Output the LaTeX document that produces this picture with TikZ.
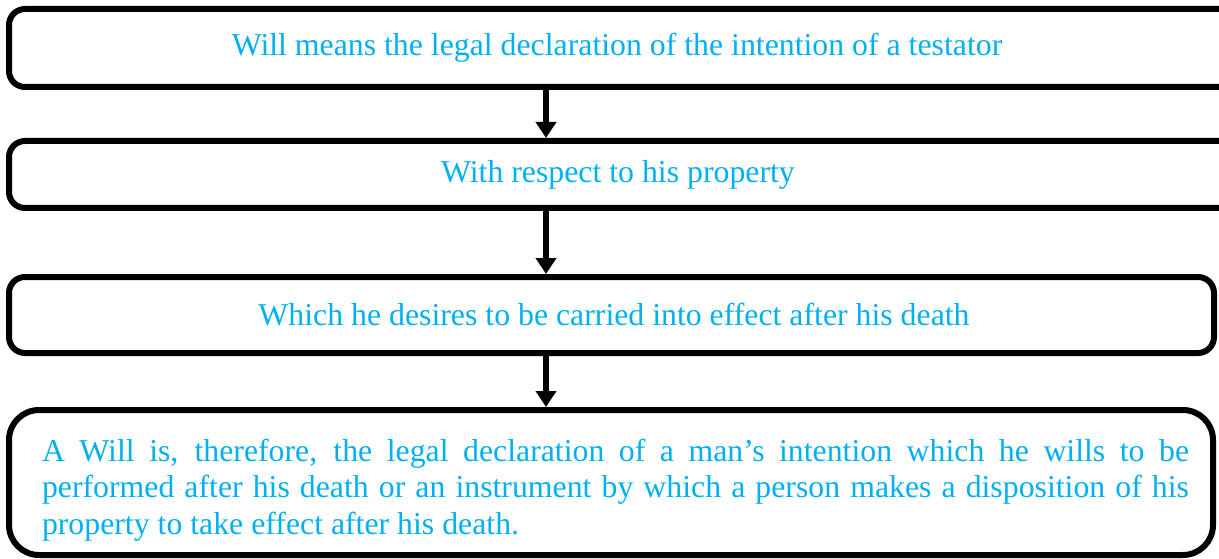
\documentclass[tikz,border=0pt]{standalone}
\usepackage{fontspec}
\setmainfont{Liberation Serif}
\usetikzlibrary{arrows.meta}
\definecolor{willblue}{RGB}{0,176,240}
\begin{document}
\begin{tikzpicture}[x=1pt,y=-1pt,
  bodyfont/.style={font=\fontsize{31.8}{36.6}\selectfont},
  stage/.style={draw=black, line width=6pt, rounded corners=16pt, inner sep=0pt},
  caption/.style={inner sep=0pt, bodyfont, text=willblue},
  flow/.style={draw=black, line width=6pt, -{Triangle[width=20pt,length=16pt]}},
  para/.style={text width=1147pt, align=justify, inner sep=0pt, bodyfont, text=willblue}]
\useasboundingbox (0,0) rectangle (1219,559);

% the four stages of the definition (the upper two run past the right edge)
\node[stage, minimum width=1251pt, minimum height=78pt] (meaning) at (634.5,48) {};
\node[caption] (meaningtext) at (617,48)
  {Will means the legal declaration of the intention of a testator};
\node[stage, minimum width=1251pt, minimum height=67pt] (property) at (634.5,174.5) {};
\node[caption] (propertytext) at (618,174.5)
  {With respect to his property};
\node[stage, minimum width=1205pt, minimum height=76pt] (death) at (611.5,315) {};
\node[caption] (deathtext) at (614,315)
  {Which he desires to be carried into effect after his death};
\node[stage, rounded corners=30pt, minimum width=1204pt, minimum height=145pt] (summary) at (611,482.5) {};
\node[para] (summarytext) at (615.5,490)
  {\hyphenpenalty=10000 \tolerance=9999
   A Will is, therefore, the legal declaration of a man’s intention which he wills to be\linebreak
   performed after his death or an instrument by which a person makes a disposition of his\linebreak
   property to take effect after his death.};

% connectors run down a common vertical line
\coordinate (spine) at (546,0);
\draw[flow] (meaning.south -| spine) -- (property.north -| spine);
\draw[flow] (property.south -| spine) -- (death.north -| spine);
\draw[flow] (death.south -| spine) -- (summary.north -| spine);
\end{tikzpicture}
\end{document}
